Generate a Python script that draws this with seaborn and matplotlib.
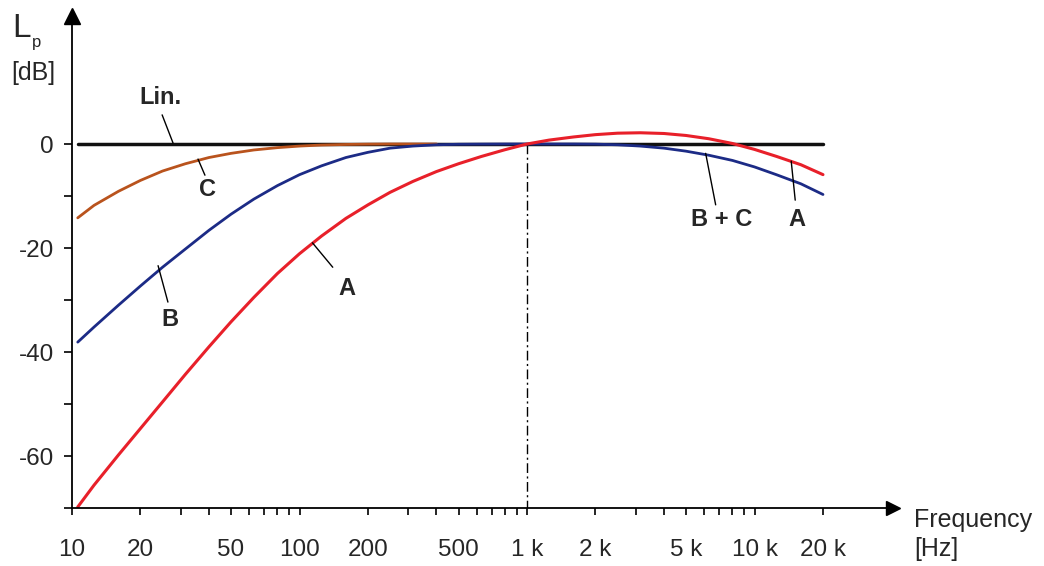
import numpy as np
import pandas as pd
import matplotlib
matplotlib.use("Agg")
import matplotlib.pyplot as plt
import seaborn as sns

# ---- data ----
freq = [10.6, 12.5, 16, 20, 25, 31.5, 40, 50, 63, 80, 100, 125, 160, 200, 250,
        315, 400, 500, 630, 800, 1000, 1250, 1600, 2000, 2500, 3150, 4000,
        5000, 6300, 8000, 10000, 12500, 16000, 20000]
a_weight = [-69.8, -65.6, -59.8, -54.7, -49.6, -44.3, -39.0, -34.2, -29.5, -24.9,
            -21.1, -17.7, -14.3, -11.7, -9.3, -7.2, -5.3, -3.8, -2.4, -1.1,
            0.0, 0.75, 1.35, 1.8, 2.08, 2.16, 2.02, 1.64, 1.01, 0.1, -1.04, -2.39, -3.99, -5.89]
b_weight = [-38.1, -35.2, -31.0, -27.3, -23.7, -20.2, -16.6, -13.5, -10.6, -8.0,
            -5.9, -4.2, -2.6, -1.6, -0.8, -0.4, -0.15, -0.05, -0.02, 0.0,
            0.0, 0.0, 0.0, -0.03, -0.15, -0.4, -0.8, -1.38, -2.16, -3.16, -4.41, -5.91, -7.66, -9.71]
c_freq = [10.6, 12.5, 16, 20, 25, 31.5, 40, 50, 63, 80, 100, 125, 160, 200, 250, 315, 400]
c_weight = [-14.2, -11.8, -9.1, -7.0, -5.2, -3.8, -2.6, -1.8, -1.15, -0.7,
            -0.4, -0.2, -0.09, -0.03, 0.0, 0.0, 0.0]
lin_freq = [10.6, 20000]
lin_weight = [0.0, 0.0]

xtick_values = [10, 20, 50, 100, 200, 500, 1000, 2000, 5000, 10000, 20000]
xtick_labels = ["10", "20", "50", "100", "200", "500", "1 k", "2 k", "5 k", "10 k", "20 k"]
ytick_values = [0, -20, -40, -60]
ytick_labels = ["0", "-20", "-40", "-60"]

# curve labels: (text, text position, leader start, leader end)
curve_labels = [
    ("Lin.", (24.4, 9.0), (24.9, 5.6), (27.8, 0.2)),
    ("C", (39.6, -8.8), (35.8, -2.9), (38.4, -6.0)),
    ("B", (26.9, -33.8), (23.9, -23.4), (26.4, -30.4)),
    ("A", (161, -27.7), (114, -19.0), (140, -23.7)),
    ("B + C", (7200, -14.6), (6100, -1.8), (6750, -11.7)),
    ("A", (15400, -14.6), (14500, -3.3), (15100, -10.8)),
]

sns.set_style("white")
plt.rcParams["font.family"] = ["Liberation Sans", "DejaVu Sans"]

W, H = 1044, 566
fig = plt.figure(figsize=(W / 100, H / 100), dpi=100)
left_px, right_px, top_px, bottom_px = 72, 893, 16, 508
ax = fig.add_axes([left_px / W, 1 - bottom_px / H,
                   (right_px - left_px) / W, (bottom_px - top_px) / H])

px_per_dec = 227.5
px_per_db = 5.2
xmax = 10 ** (1 + (right_px - left_px) / px_per_dec)
ymax = (144 - top_px) / px_per_db

df = pd.concat([
    pd.DataFrame({"f": lin_freq, "L": lin_weight, "curve": "Lin"}),
    pd.DataFrame({"f": c_freq, "L": c_weight, "curve": "C"}),
    pd.DataFrame({"f": freq, "L": b_weight, "curve": "B"}),
    pd.DataFrame({"f": freq, "L": a_weight, "curve": "A"}),
], ignore_index=True)

palette = {"Lin": "#111111", "C": "#b9531d", "B": "#1c2b86", "A": "#e8202a"}
widths = {"Lin": 2.5, "C": 2.0, "B": 2.0, "A": 2.2}
for name in ["Lin", "C", "B", "A"]:
    sub = df[df["curve"] == name]
    sns.lineplot(data=sub, x="f", y="L", color=palette[name], lw=widths[name],
                 ax=ax, estimator=None, sort=True, legend=False)

ax.set_xscale("log")
ax.set_xlim(10, xmax)
ax.set_ylim(-70, ymax)

# vertical dash-dot line at 1 kHz
ax.plot([1000, 1000], [0, -70], color="black", lw=1.0,
        linestyle=(0, (7, 2.5, 1.5, 2.5)), zorder=1)

for sp in ["top", "right"]:
    ax.spines[sp].set_visible(False)
for sp in ["left", "bottom"]:
    ax.spines[sp].set_color("black")
    ax.spines[sp].set_linewidth(1.3)

# axis arrows
ax.plot(1, 0, marker=">", color="black", ms=10, transform=ax.transAxes, clip_on=False)
ax.plot(0, 1, marker="^", color="black", ms=11, transform=ax.transAxes, clip_on=False)

ax.set_xticks(xtick_values)
ax.set_xticklabels(xtick_labels)
minor_x = [v * m for v in [10, 100, 1000] for m in range(2, 10)] + [20000]
ax.set_xticks([m for m in minor_x if m not in xtick_values], minor=True)
ax.xaxis.set_minor_formatter(matplotlib.ticker.NullFormatter())
ax.set_yticks(ytick_values)
ax.set_yticklabels(ytick_labels)
ax.set_yticks([-10, -30, -50, -70], minor=True)

ax.tick_params(axis="x", which="both", direction="out", length=5, width=1.2,
               pad=17, labelsize=17.5, bottom=True, color="black")
ax.tick_params(axis="y", which="both", direction="out", length=6, width=1.2,
               pad=7, labelsize=17.5, left=True, color="black")
ax.set_xlabel("")
ax.set_ylabel("")

# curve labels with leader lines
for text, tpos, l0, l1 in curve_labels:
    ax.plot([l0[0], l1[0]], [l0[1], l1[1]], color="black", lw=1.0)
    ax.text(tpos[0], tpos[1], text, ha="center", va="center",
            fontsize=17, fontweight="bold")

# axis titles
fig.text(12 / W, 1 - 37 / H, "L", fontsize=24, ha="left", va="baseline")
fig.text(32 / W, 1 - 47 / H, "p", fontsize=12, ha="left", va="baseline")
fig.text(11 / W, 1 - 80 / H, "[dB]", fontsize=18, ha="left", va="baseline")
fig.text(914 / W, 1 - 527 / H, "Frequency", fontsize=18, ha="left", va="baseline")
fig.text(914 / W, 1 - 556 / H, "[Hz]", fontsize=18, ha="left", va="baseline")

fig.savefig("out.png", dpi=100, facecolor="white")
